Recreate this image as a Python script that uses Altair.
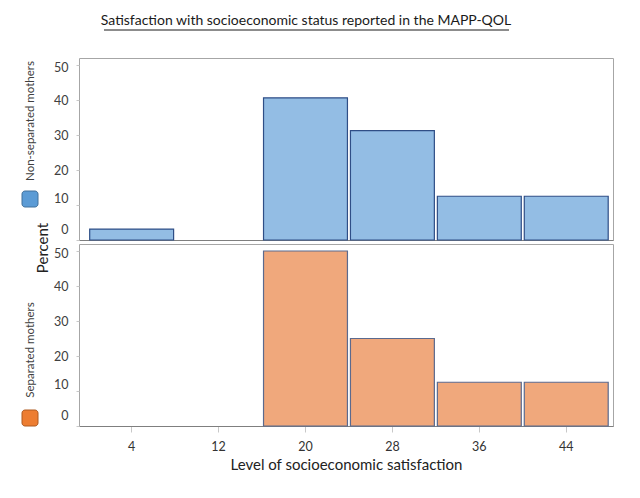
import altair as alt
import pandas as pd

# Data
bin_lo = [0, 8, 16, 24, 32, 40]
bin_hi = [8, 16, 24, 32, 40, 48]
tick_vals = [4, 12, 20, 28, 36, 44]
y_ticks = [0, 10, 20, 30, 40, 50]
non_separated = [3.125, 0, 40.625, 31.25, 12.5, 12.5]
separated = [0, 0, 50, 25, 12.5, 12.5]

title_text = "Satisfaction with socioeconomic status reported in the MAPP-QOL"
x_title = "Level of socioeconomic satisfaction"
y_title = "Percent"
group_labels = ["Non-separated mothers", "Separated mothers"]

FONT = "Lato"
W, H = 534, 182


def make_df(vals):
    df = pd.DataFrame({"lo": bin_lo, "hi": bin_hi, "pct": vals})
    return df[df["pct"] > 0]


def panel(vals, fill, stroke, label, sq_fill, sq_stroke, sq_y, label_y, bottom, extra=None):
    xaxis = alt.Axis(
        values=tick_vals, title=x_title if bottom else None, labels=bottom,
        ticks=bottom, tickColor="#C8C8C8", tickSize=6, labelFontSize=12.5,
        labelColor="#333333", labelPadding=8, titleFontSize=15, titleColor="#222222",
        titleFontWeight="normal", titlePadding=5, domainColor="#7F7F7F", grid=False,
    )
    bars = alt.Chart(make_df(vals)).mark_bar(
        fill=fill, stroke=stroke, strokeWidth=1.2, binSpacing=3
    ).encode(
        x=alt.X("lo:Q", bin="binned",
                scale=alt.Scale(domain=[-0.8, 48.35], nice=False, zero=False), axis=xaxis),
        x2="hi:Q",
        y=alt.Y("pct:Q", scale=alt.Scale(domain=[0, 52], nice=False),
                axis=alt.Axis(values=y_ticks, title=None, domain=False, grid=False,
                              tickColor="#C8C8C8", tickSize=3, labelPadding=8,
                              labelOffset={"expr": "datum.value == 0 ? -11 : datum.value == 10 ? -7 : datum.value == 50 ? 2 : 0"},
                              labelFontSize=12.5, labelColor="#404040")),
    )
    one = pd.DataFrame({"t": [label]})
    lab = alt.Chart(one).mark_text(
        angle=270, font=FONT, fontSize=11.5, color="#404040", align="center", baseline="middle"
    ).encode(text="t:N", x=alt.value(-48), y=alt.value(label_y))
    sq = alt.Chart(one).mark_rect(
        fill=sq_fill, stroke=sq_stroke, strokeWidth=1, cornerRadius=3
    ).encode(x=alt.value(-57), x2=alt.value(-41), y=alt.value(sq_y), y2=alt.value(sq_y + 16))
    layers = [bars, lab, sq]
    if extra:
        layers += extra
    return alt.layer(*layers).properties(width=W, height=H)


one_title = pd.DataFrame({"t": [title_text]})
title_mark = alt.Chart(one_title).mark_text(
    font=FONT, fontSize=14, color="#1a1a1a", align="center", baseline="middle"
).encode(text="t:N", x=alt.value(227), y=alt.value(-37))
underline = alt.Chart(one_title).mark_rule(color="#1a1a1a", strokeWidth=1).encode(
    x=alt.value(25), x2=alt.value(430), y=alt.value(-28)
)
percent = alt.Chart(pd.DataFrame({"t": [y_title]})).mark_text(
    angle=270, font=FONT, fontSize=15, color="#222222", align="center", baseline="middle"
).encode(text="t:N", x=alt.value(-36), y=alt.value(190))

top = panel(non_separated, "#93BDE4", "#2F4E86", group_labels[0], "#5B9BD5", "#41719C",
            133, 63, False, extra=[title_mark, underline, percent])
bottom = panel(separated, "#F0A87C", "#5B6A8E", group_labels[1], "#ED7D31", "#AE5A21",
               166, 106, True)

chart = alt.vconcat(top, bottom, spacing=4, bounds="flush").properties(
    padding={"left": 13, "top": 5, "right": 5, "bottom": 5}
).configure_view(
    stroke="#A6A6A6", strokeWidth=1
).configure_axis(
    labelFont=FONT, titleFont=FONT
)

chart.save("out.html", embed_options={"renderer": "svg", "actions": False})
